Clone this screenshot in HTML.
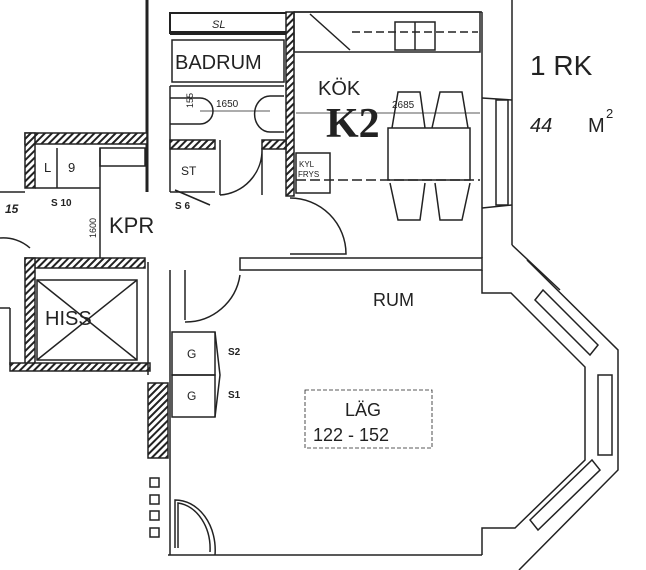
<!DOCTYPE html>
<html><head><meta charset="utf-8"><style>
html,body{margin:0;padding:0;background:#fff;}
svg{display:block;}
text{font-family:"Liberation Sans",sans-serif;fill:#222;}
</style></head><body>
<svg width="646" height="570" viewBox="0 0 646 570" xmlns="http://www.w3.org/2000/svg">
<defs>
<pattern id="h" patternUnits="userSpaceOnUse" width="5" height="5" patternTransform="rotate(45)">
<rect width="5" height="5" fill="#fff"/><rect width="2" height="5" fill="#222"/></pattern>
</defs>
<g stroke="#222" fill="none" stroke-width="1.5">
<!-- upper left wall -->
<line x1="147" y1="0" x2="147" y2="192" stroke-width="3"/>
<!-- SL -->
<rect x="170" y="13" width="118" height="20" stroke-width="2"/>
<line x1="170" y1="33" x2="288" y2="33" stroke-width="4"/>
<!-- hatched vertical kitchen/bath wall -->
<rect x="286" y="12" width="8" height="184" fill="url(#h)"/>
<!-- badrum -->
<rect x="172" y="40" width="112" height="42"/>
<line x1="170" y1="86" x2="284" y2="86"/>
<line x1="170" y1="86" x2="170" y2="192"/>
<path d="M170 98 H200 A12 12 0 0 1 200 124 H170"/>
<path d="M284 96 H270 A12 14 0 0 0 270 132 H284"/>
<line x1="200" y1="111" x2="270" y2="111" stroke-width="0.8"/>
<rect x="170" y="140" width="45" height="9" fill="url(#h)"/>
<rect x="262" y="140" width="24" height="9" fill="url(#h)"/>
<line x1="220" y1="140" x2="220" y2="195"/>
<line x1="170" y1="192" x2="215" y2="192"/>
<line x1="175" y1="190" x2="210" y2="205"/>
<path d="M262 148 V195 M262 150 A45 45 0 0 1 220 195"/>
<!-- kitchen -->
<line x1="294" y1="12" x2="482" y2="12"/>
<rect x="294" y="12" width="186" height="40"/>
<line x1="310" y1="14" x2="350" y2="50"/>
<rect x="395" y="22" width="40" height="28"/>
<line x1="415" y1="22" x2="415" y2="50"/>
<line x1="352" y1="32" x2="478" y2="32" stroke-dasharray="8 4"/>
<rect x="296" y="153" width="34" height="40"/>
<line x1="296" y1="180" x2="480" y2="180" stroke-dasharray="10 4"/>
<line x1="296" y1="113" x2="480" y2="113" stroke-width="0.8"/>
<rect x="388" y="128" width="82" height="52"/>
<path d="M392 128 L398 92 H420 L425 128 M432 128 L440 92 H462 L468 128"/>
<path d="M390 183 L398 220 H420 L425 183 M435 183 L440 220 H462 L470 183"/>
<line x1="482" y1="12" x2="482" y2="258"/>
<line x1="512" y1="0" x2="512" y2="245"/>
<rect x="496" y="100" width="12" height="105"/>
<line x1="482" y1="98" x2="512" y2="100"/>
<line x1="482" y1="208" x2="512" y2="205"/>
<path d="M290 198 A56 56 0 0 1 346 254 H290"/>
<!-- corridor wall to room -->
<rect x="240" y="258" width="242" height="12"/>
<line x1="512" y1="245" x2="560" y2="290"/>
<!-- KPR -->
<rect x="25" y="133" width="122" height="11" fill="url(#h)"/>
<rect x="25" y="133" width="10" height="55" fill="url(#h)"/>
<line x1="35" y1="188" x2="100" y2="188"/>
<line x1="57" y1="148" x2="57" y2="188"/>
<line x1="100" y1="148" x2="100" y2="258"/>
<rect x="100" y="148" width="45" height="18"/>
<line x1="0" y1="192" x2="25" y2="192"/>
<path d="M0 238 A40 40 0 0 1 30 248"/>
<!-- HISS -->
<rect x="25" y="258" width="120" height="10" fill="url(#h)"/>
<rect x="25" y="258" width="10" height="110" fill="url(#h)"/>
<rect x="10" y="363" width="140" height="8" fill="url(#h)"/>
<rect x="37" y="280" width="100" height="80"/>
<line x1="37" y1="280" x2="137" y2="360"/><line x1="137" y1="280" x2="37" y2="360"/>
<line x1="0" y1="308" x2="10" y2="308"/><line x1="10" y1="308" x2="10" y2="365"/>
<line x1="148" y1="262" x2="148" y2="375"/>
<line x1="185" y1="270" x2="185" y2="320"/>
<path d="M240 275 A55 55 0 0 1 185 322"/>
<!-- room -->
<line x1="170" y1="270" x2="170" y2="555"/>
<rect x="148" y="383" width="20" height="75" fill="url(#h)"/>
<rect x="172" y="332" width="43" height="43"/><rect x="172" y="375" width="43" height="42"/>
<path d="M215 332 L220 375 L215 417"/>
<rect x="150" y="478" width="9" height="9"/><rect x="150" y="495" width="9" height="9"/><rect x="150" y="511" width="9" height="9"/><rect x="150" y="528" width="9" height="9"/>
<path d="M175 548 V500 A40 50 0 0 1 215 555"/>
<path d="M178 548 V503 A36 46 0 0 1 210 552"/>
<line x1="168" y1="555" x2="482" y2="555"/>
<path d="M482 270 V293 H511 L585 367 V460 L515 528 H482 V555"/>
<path d="M527 260 L618 350 V470 L519 570"/>
<path d="M535 300 L590 355 L598 345 L543 290 Z"/>
<rect x="598" y="375" width="14" height="80"/>
<path d="M530 520 L592 460 L600 470 L538 530 Z"/>
<rect x="305" y="390" width="127" height="58" stroke-width="0.8" stroke-dasharray="4 2"/>
</g>
<g>
<text x="212" y="28" font-size="11" font-style="italic">SL</text>
<text x="175" y="69" font-size="20">BADRUM</text>
<text x="216" y="107" font-size="10">1650</text>
<text x="193" y="108" font-size="9" transform="rotate(-90 193 108)">155</text>
<text x="318" y="95" font-size="20">KÖK</text>
<text x="326" y="137" font-size="42" font-weight="bold" style="font-family:'Liberation Serif',serif">K2</text>
<text x="392" y="108" font-size="10">2685</text>
<text x="299" y="167" font-size="8">KYL</text><text x="298" y="177" font-size="8">FRYS</text>
<text x="181" y="175" font-size="12">ST</text>
<text x="44" y="172" font-size="13">L</text><text x="68" y="172" font-size="13">9</text>
<text x="51" y="206" font-size="10" font-weight="bold">S 10</text>
<text x="175" y="209" font-size="10" font-weight="bold">S 6</text>
<text x="5" y="213" font-size="12" font-style="italic" font-weight="bold">15</text>
<text x="109" y="233" font-size="22">KPR</text>
<text x="96" y="238" font-size="9" transform="rotate(-90 96 238)">1600</text>
<text x="45" y="325" font-size="20">HISS</text>
<text x="373" y="306" font-size="18">RUM</text>
<text x="187" y="358" font-size="12">G</text><text x="187" y="400" font-size="12">G</text>
<text x="228" y="355" font-size="10" font-weight="bold">S2</text>
<text x="228" y="398" font-size="10" font-weight="bold">S1</text>
<text x="345" y="416" font-size="18">LÄG</text>
<text x="313" y="441" font-size="18">122 - 152</text>
<text x="530" y="75" font-size="28">1 RK</text>
<text x="530" y="132" font-size="20" font-style="italic">44</text>
<text x="588" y="132" font-size="20">M</text><text x="606" y="118" font-size="13">2</text>
</g>
</svg>
</body></html>
